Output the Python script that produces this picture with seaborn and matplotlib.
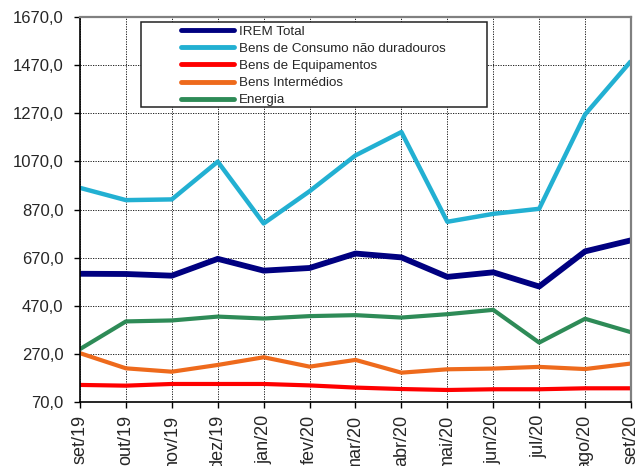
import numpy as np
import pandas as pd
import matplotlib
matplotlib.use("Agg")
import matplotlib.pyplot as plt
import seaborn as sns
from matplotlib.ticker import FuncFormatter
from matplotlib.patches import Rectangle

# months and series
meses = ['set/19', 'out/19', 'nov/19', 'dez/19', 'jan/20', 'fev/20', 'mar/20',
         'abr/20', 'mai/20', 'jun/20', 'jul/20', 'ago/20', 'set/20']
irem_total = [603, 602, 595, 665, 616, 627, 687, 671, 590, 609, 550, 696, 742]
bens_consumo = [960, 909, 912, 1069, 812, 946, 1095, 1192, 819, 852, 873, 1265, 1487]
bens_equip = [141, 138, 145, 145, 145, 139, 130, 124, 120, 123, 123, 127, 127]
bens_interm = [273, 210, 196, 224, 256, 217, 245, 192, 206, 209, 216, 207, 230]
energia = [290, 405, 409, 425, 417, 427, 431, 421, 435, 453, 317, 416, 360]

series = {
    'IREM Total': irem_total,
    'Bens de Consumo não duradouros': bens_consumo,
    'Bens de Equipamentos': bens_equip,
    'Bens Intermédios': bens_interm,
    'Energia': energia,
}
cores = ['#000080', '#22B0D2', '#FF0000', '#EE6A1C', '#2E8B57']
larguras = [4.2, 3.2, 3.0, 3.0, 3.0]

frames = []
for nome, vals in series.items():
    frames.append(pd.DataFrame({'idx': np.arange(len(meses)), 'valor': vals, 'serie': nome}))
df = pd.concat(frames, ignore_index=True)

sns.set_style('white')
plt.rcParams['font.family'] = ['Liberation Sans', 'DejaVu Sans']

fig = plt.figure(figsize=(6.41, 4.66), dpi=100)
ax = fig.add_axes([0.1248, 0.1373, 0.8596, 0.8262])

sns.lineplot(data=df, x='idx', y='valor', hue='serie', palette=cores, ax=ax, legend=True)
for line, lw in zip(ax.get_lines(), larguras):
    line.set_linewidth(lw)
    line.set_solid_capstyle('butt')

ax.set_xlim(0, len(meses) - 1)
ax.set_ylim(70, 1670)
ax.set_yticks(np.arange(70, 1671, 200))
ax.yaxis.set_major_formatter(FuncFormatter(lambda v, p: f'{v:.1f}'.replace('.', ',')))
ax.set_xticks(np.arange(len(meses)))
ax.set_xticklabels(meses, rotation=90, fontsize=13)
ax.tick_params(axis='y', labelsize=12, direction='out', length=4, width=1, color='black', left=True, pad=8)
ax.tick_params(axis='x', direction='out', length=4, width=1, color='black', bottom=True, pad=5)
ax.set_xlabel('')
ax.set_ylabel('')

ax.grid(True, color='black', linestyle=(0, (1.5, 1.5)), linewidth=0.6)
ax.set_axisbelow(True)
for s in ['left', 'bottom']:
    ax.spines[s].set_color('black')
    ax.spines[s].set_linewidth(1.2)
for s in ['top', 'right']:
    ax.spines[s].set_color('#808080')
    ax.spines[s].set_linewidth(1.6)

# legend frame drawn as a box, legend itself without frame
ax.add_patch(Rectangle((0.110, 0.767), 0.628, 0.221, transform=ax.transAxes,
                       facecolor='white', edgecolor='#222222', linewidth=1.1, zorder=4.5))
handles, labels = ax.get_legend_handles_labels()
for h in handles:
    h.set_linewidth(3.5)
leg = ax.legend(handles, labels, loc='upper left', bbox_to_anchor=(0.183, 0.978),
                borderaxespad=0, borderpad=0, fontsize=9.6, handlelength=4.0,
                handletextpad=0.35, labelspacing=0.36, frameon=False)
leg.set_zorder(5)

fig.savefig('out.png', dpi=100)
